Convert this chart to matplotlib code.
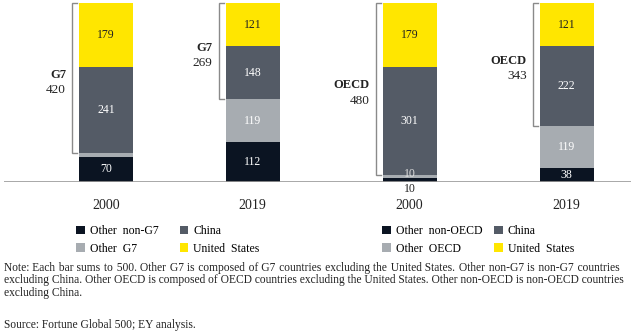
import numpy as np
import matplotlib.pyplot as plt
from matplotlib.patches import Patch

plt.rcParams['font.family'] = ['Liberation Serif', 'DejaVu Serif']

years = ['2000', '2019', '2000', '2019']
# stacked from bottom: other non-group, other group, China, United States
other_non = [70, 112, 10, 38]
other_grp = [10, 119, 10, 119]
china = [241, 148, 301, 222]
us = [179, 121, 179, 121]
group_names = ['G7', 'G7', 'OECD', 'OECD']
group_totals = [420, 269, 480, 343]
legend_left = ['Other  non-G7', 'Other  G7', 'China', 'United  States']
legend_right = ['Other  non-OECD', 'Other  OECD', 'China', 'United  States']

colors = ['#0b1422', '#a7acb1', '#545b66', '#ffe600']
text_colors = ['white', 'white', 'white', '#222222']

note_lines = [
    "Note: Each bar sums to 500. Other G7 is composed of G7 countries excluding the United States. Other non-G7 is non-G7 countries",
    "excluding China. Other OECD is composed of OECD countries excluding the United States. Other non-OECD is non-OECD countries",
    "excluding China.",
]
source = "Source: Fortune Global 500; EY analysis."

W, H = 633, 336
fig = plt.figure(figsize=(W / 100, H / 100), dpi=100)
ax = fig.add_axes([4 / W, 1 - 182 / H, 627 / W, 179 / H])

# x layout in pixel-like units
xpos = np.array([102, 248.5, 405.5, 562.5])
bw = 54
ax.set_xlim(0, 627)
ax.set_ylim(0, 500)

series = [other_non, other_grp, china, us]
bottom = np.zeros(4)
for k, vals in enumerate(series):
    vals = np.array(vals, dtype=float)
    ax.bar(xpos, vals, bw, bottom=bottom, color=colors[k], linewidth=0)
    for i in range(4):
        v = vals[i]
        yc = bottom[i] + v / 2
        if k == 1 and i == 0:
            continue
        if v < 25:
            if k == 0:
                ax.text(xpos[i], -3, f'{int(v)}', ha='center', va='top',
                        fontsize=8.5, color='#222222', clip_on=False)
            else:
                ax.text(xpos[i], bottom[i] + v + 1, f'{int(v)}', ha='center',
                        va='center', fontsize=8.5, color='#dddddd')
            continue
        ax.text(xpos[i], yc, f'{int(v)}', ha='center', va='center',
                fontsize=8.5, color=text_colors[k])
    bottom += vals

# brackets
for i in range(4):
    top = bottom[i]
    low = top - group_totals[i]
    bx = xpos[i] - bw / 2 - 7
    ax.plot([bx + 5, bx, bx, bx + 5], [top, top, low, low],
            color='#8a8a8a', lw=1, clip_on=False, solid_joinstyle='miter')
    mid = (top + low) / 2
    ax.text(bx - 6, mid + 10, group_names[i], ha='right', va='center',
            fontsize=9, fontweight='bold', color='#222222')
    ax.text(bx - 6, mid - 33, str(group_totals[i]), ha='right', va='center',
            fontsize=9.5, color='#222222')

ax.axhline(0, color='#9a9a9a', lw=1.2)
for s in ax.spines.values():
    s.set_visible(False)
ax.set_xticks([])
ax.set_yticks([])

for i in range(4):
    fig.text((4 + xpos[i]) / W, 1 - 205 / H, years[i], ha='center',
             va='center', fontsize=10, color='#222222')

handles = [Patch(facecolor=colors[0]), Patch(facecolor=colors[1]),
           Patch(facecolor=colors[2]), Patch(facecolor=colors[3])]
for labels, x0, colsp in [(legend_left, 76, 1.8), (legend_right, 382, 1.0)]:
    fig.legend(handles, labels, loc='upper left',
               bbox_to_anchor=(x0 / W, 1 - 225 / H), ncol=2, frameon=False,
               fontsize=8.5, handlelength=0.75, handleheight=0.75,
               handletextpad=0.4, columnspacing=colsp, borderpad=0,
               labelspacing=0.5, borderaxespad=0)


# justified note text: pad the gaps with hair spaces, one text per line
renderer = fig.canvas.get_renderer()
fs = 8.3
x_left, x_right = 4, 620
HAIR = '\u200a'


def text_width(s):
    t = fig.text(0, 0, s, fontsize=fs)
    w = t.get_window_extent(renderer).width
    t.remove()
    return w


hair_w = text_width('a' + HAIR * 10 + 'a') - text_width('aa')
hair_w /= 10
for j, line in enumerate(note_lines):
    y = 1 - (271 + 12.5 * j) / H
    if j < len(note_lines) - 1 and hair_w > 0:
        words = line.split(' ')
        extra = (x_right - x_left) - text_width(line)
        n_total = max(int(round(extra / hair_w)), 0)
        gaps = len(words) - 1
        out = words[0]
        for g in range(gaps):
            n = n_total * (g + 1) // gaps - n_total * g // gaps
            out += ' ' + HAIR * n + words[g + 1]
        line = out
    fig.text(x_left / W, y, line, ha='left', va='baseline', fontsize=fs,
             color='#222222')

fig.text(4 / W, 1 - 328 / H, source, ha='left', va='baseline', fontsize=fs,
         color='#222222')

fig.savefig('out.png', dpi=100)
